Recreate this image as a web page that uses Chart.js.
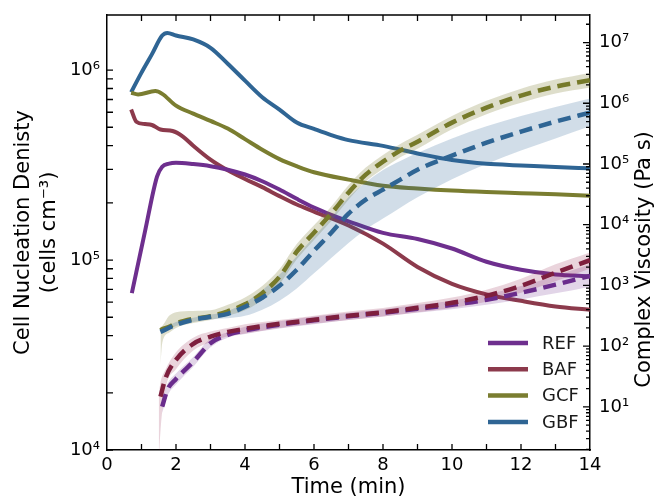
<!DOCTYPE html>
<html>
<head>
<meta charset="utf-8">
<script src="https://cdn.jsdelivr.net/npm/chart.js@4.4.1/dist/chart.umd.min.js"></script>
<style>
body{margin:0;background:#fff;}
canvas{display:block;}
</style>
</head>
<body>
<canvas id="chart" width="660" height="497"></canvas>
<script>
// cell nucleation density (left axis), time in min
let refTime=[0.72,1.1,1.45,1.6,1.8,2.0,2.5,3.0,3.5,4.0,4.5,5.0,5.5,6.0,6.5,7.0,8.0,9.0,10,11,12,13,14];
let refDensity=[6.7e4,1.41e5,2.75e5,3.1e5,3.22e5,3.25e5,3.2e5,3.12e5,2.99e5,2.82e5,2.6e5,2.35e5,2.1e5,1.89e5,1.73e5,1.6e5,1.39e5,1.29e5,1.15e5,9.8e4,8.9e4,8.4e4,8.2e4];

let bafTime=[0.7,0.85,1.1,1.3,1.55,1.9,2.2,2.5,3.0,3.5,4.0,4.5,5.0,5.5,6.0,7.0,8.0,9.0,10,11,12,13,14];
let bafDensity=[6.2e5,5.35e5,5.2e5,5.14e5,4.87e5,4.78e5,4.47e5,4.0e5,3.38e5,2.97e5,2.67e5,2.42e5,2.17e5,1.96e5,1.8e5,1.52e5,1.22e5,9.2e4,7.5e4,6.6e4,6.1e4,5.7e4,5.47e4];

let gcfTime=[0.7,0.9,1.4,1.6,2.0,2.5,3.0,3.5,4.0,4.5,5.0,5.5,6.0,7.0,8.0,9.0,10,11,12,13,14];
let gcfDensity=[7.6e5,7.45e5,7.75e5,7.5e5,6.5e5,5.9e5,5.4e5,4.92e5,4.33e5,3.81e5,3.4e5,3.12e5,2.9e5,2.65e5,2.46e5,2.38e5,2.32e5,2.28e5,2.25e5,2.22e5,2.18e5];

let gbfTime=[0.7,1.0,1.3,1.6,1.75,2.0,2.5,3.0,3.5,4.0,4.5,5.0,5.5,6.0,6.5,7.0,8.0,9.0,10,11,12,13,14];
let gbfDensity=[7.65e5,9.7e5,1.21e6,1.52e6,1.57e6,1.52e6,1.45e6,1.31e6,1.08e6,8.8e5,7.2e5,6.2e5,5.3e5,4.9e5,4.55e5,4.28e5,3.99e5,3.64e5,3.36e5,3.21e5,3.15e5,3.09e5,3.04e5];

// complex viscosity (right axis), mean with upper / lower band
let refVisTime=[1.6,1.75,2.0,2.5,3.0,3.5,4.0,5.0,6.0,7.0,8.0,9.0,10,11,12,13,14];
let refVisc=[10.1,19.1,28.9,55.2,112,154,182,225,267,310,354,412,480,581,757,1030,1440];
let refViscHigh=[12.6,24,35.5,66.1,132,170,209,257,309,355,407,479,562,708,977,1450,2240];
let refViscLow=[7.9,15.1,23.4,45.7,95.5,138,158,195,229,269,309,355,407,479,589,741,955];

let bafVisTime=[1.5,1.55,1.7,2.0,2.5,3.0,3.5,4.0,5.0,6.0,7.0,8.0,9.0,10,11,12,13,14];
let bafVisc=[null,14.8,30.1,59.6,109,144,172,193,233,272,316,361,429,518,676,986,1620,2600];
let bafViscHigh=[16,25.1,41.7,79.4,138,174,200,229,269,316,372,427,513,631,851,1290,2240,3500];
let bafViscLow=[1.26,4.0,20,41.7,85.1,117,145,162,200,234,269,309,363,427,537,759,1170,1900];

let gcfVisTime=[1.55,1.6,1.8,2.0,2.5,3.0,3.5,4.0,4.5,5.0,5.5,6.0,6.5,7.0,7.5,8.0,8.5,9.0,10,11,12,13,14];
let gcfVisc=[182,190,208,238,282,310,375,489,743,1390,3590,7380,15200,33700,66700,109000,166000,233000,480000,847000,1340000,1880000,2390000];
let gcfViscHigh=[209,214,316,363,380,389,479,631,977,1860,4790,9770,20000,44700,87100,141000,214000,302000,617000,1100000,1740000,2450000,3160000];
let gcfViscLow=[50,112,166,200,240,269,316,389,575,1050,2690,5620,11500,25700,51300,83200,129000,178000,372000,661000,1020000,1450000,1820000];

let gbfVisTime=[1.55,2.0,2.5,3.0,3.5,4.0,4.5,5.0,5.5,6.0,6.5,7.0,7.5,8.0,8.5,9.0,10,11,12,13,14];
let gbfVisc=[172,225,272,304,341,445,627,986,1810,3720,7380,15200,25800,37800,55200,80500,137000,224000,341000,499000,701000];
let gbfViscHigh=[182,251,295,331,380,525,832,1510,3020,6310,13200,28200,50100,79400,112000,151000,263000,417000,617000,871000,1200000];
let gbfViscLow=[158,214,251,275,288,316,398,562,891,1580,2820,5010,8320,12600,19000,28200,56200,100000,166000,263000,417000];

let legendNames=["REF","BAF","GCF","GBF"];
let legendColors=["#6e2f8e","#8c3a4c","#7a7d30","#2f6594"];

function pts(xs,ys){
return xs.map((x,i)=>({x:x,y:ys[i]}));
}

const SUP="⁰¹²³⁴⁵⁶⁷⁸⁹";
function powLabel(v){
let e=Math.log10(v);
if(Math.abs(e-Math.round(e))>1e-6) return "";
return "10"+String(Math.round(e)).split("").map(d=>SUP[d]).join("");
}

function solid(name,xs,ys,color){
return {label:name,data:pts(xs,ys),yAxisID:"y",borderColor:color,borderWidth:4,order:3};
}
function dashed(xs,ys,color){
return {data:pts(xs,ys),yAxisID:"y2",borderColor:color,borderWidth:4.5,borderDash:[13,7],order:1};
}
function band(xs,hi,lo,color){
return [
{data:pts(xs,hi),yAxisID:"y2",fill:"+1",backgroundColor:color,borderColor:"rgba(0,0,0,0)",borderWidth:0,order:2},
{data:pts(xs,lo),yAxisID:"y2",fill:false,borderColor:"rgba(0,0,0,0)",borderWidth:0,order:2}
];
}

let datasets=[
solid("REF",refTime,refDensity,legendColors[0]),
solid("BAF",bafTime,bafDensity,legendColors[1]),
solid("GCF",gcfTime,gcfDensity,legendColors[2]),
solid("GBF",gbfTime,gbfDensity,legendColors[3]),
...band(gbfVisTime,gbfViscHigh,gbfViscLow,"rgba(45,100,150,0.22)"),
...band(gcfVisTime,gcfViscHigh,gcfViscLow,"rgba(122,125,46,0.25)"),
...band(bafVisTime,bafViscHigh,bafViscLow,"rgba(150,40,80,0.2)"),
...band(refVisTime,refViscHigh,refViscLow,"rgba(110,45,140,0.2)"),
dashed(gbfVisTime,gbfVisc,"#2f6594"),
dashed(gcfVisTime,gcfVisc,"#767a2a"),
dashed(bafVisTime,bafVisc,"#7e1f3e"),
dashed(refVisTime,refVisc,"#6a2c8c")
];

// inward ticks, top spine, right axis title and the legend box
const frame={
id:"frame",
afterDraw(chart){
let ctx=chart.ctx, a=chart.chartArea, x=chart.scales.x, y=chart.scales.y, y2=chart.scales.y2;
ctx.save();
ctx.strokeStyle="#000";
ctx.lineWidth=1.3;
ctx.beginPath();
ctx.moveTo(a.left,a.top);ctx.lineTo(a.right,a.top);
for(let t=x.min+1;t<x.max;t++){
let px=x.getPixelForValue(t);
ctx.moveTo(px,a.bottom);ctx.lineTo(px,a.bottom-6);
ctx.moveTo(px,a.top);ctx.lineTo(px,a.top+6);
}
for(let e=4;e<=6;e++){
for(let m=1;m<10;m++){
let v=m*Math.pow(10,e);
if(v<y.min||v>y.max) continue;
let py=y.getPixelForValue(v);
ctx.moveTo(a.left,py);ctx.lineTo(a.left+6,py);
}
}
for(let e=0;e<=7;e++){
for(let m=1;m<10;m++){
let v=m*Math.pow(10,e);
if(v<y2.min||v>y2.max) continue;
let py=y2.getPixelForValue(v);
let len=m===1?7:4;
ctx.moveTo(a.right,py);ctx.lineTo(a.right-len,py);
}
}
ctx.stroke();

// right axis title reads bottom to top
ctx.save();
ctx.translate(a.right+55,(a.top+a.bottom)/2+27);
ctx.rotate(-Math.PI/2);
ctx.font="21px 'DejaVu Sans'";
ctx.fillStyle="#000";
ctx.textAlign="center";
ctx.textBaseline="middle";
ctx.fillText("Complex Viscosity (Pa s)",0,0);
ctx.restore();

ctx.font="18px 'DejaVu Sans'";
ctx.textBaseline="middle";
ctx.textAlign="left";
legendNames.forEach((name,i)=>{
let ly=a.bottom-107+i*26.3;
ctx.strokeStyle=legendColors[i];
ctx.lineWidth=4.5;
ctx.beginPath();
ctx.moveTo(a.right-102,ly);ctx.lineTo(a.right-62,ly);
ctx.stroke();
ctx.fillStyle="#1a1a1a";
ctx.fillText(name,a.right-48,ly+1);
});
ctx.restore();
}
};

function fixSize(w,h){
return function(s){
if(w!==null) s.width=w;
if(h!==null) s.height=h;
s.paddingTop=0;s.paddingBottom=0;s.paddingLeft=0;s.paddingRight=0;
};
}

Chart.defaults.font.family="'DejaVu Sans'";
Chart.defaults.color="#000";

new Chart(document.getElementById("chart"),{
type:"line",
data:{datasets:datasets},
plugins:[frame],
options:{
responsive:false,
devicePixelRatio:1,
animation:false,
layout:{padding:{top:15,left:0,right:0,bottom:0}},
elements:{
point:{radius:0},
line:{cubicInterpolationMode:"monotone",fill:false}
},
plugins:{legend:{display:false},tooltip:{enabled:false}},
scales:{
x:{
type:"linear",min:0,max:14,
ticks:{stepSize:2,font:{size:18},padding:5,maxRotation:0,autoSkip:false},
grid:{display:false,drawTicks:false,tickLength:0},
border:{display:true,color:"#000",width:1.5},
title:{display:true,text:"Time (min)",font:{size:21,lineHeight:1.0},padding:{top:0,bottom:-1}},
afterFit:fixSize(null,47)
},
y:{
type:"logarithmic",position:"left",min:1e4,max:1.95e6,
ticks:{callback:powLabel,font:{size:18},padding:7,autoSkip:false},
grid:{display:false,drawTicks:false,tickLength:0},
border:{display:true,color:"#000",width:1.5},
title:{display:true,text:["Cell Nucleation Denisty","(cells cm⁻³)"],font:{size:21,lineHeight:1.25},padding:{top:10,bottom:0}},
afterFit:fixSize(107,null)
},
y2:{
type:"logarithmic",position:"right",min:1.95,max:2.84e7,
ticks:{callback:powLabel,font:{size:18},padding:9,autoSkip:false},
grid:{display:false,drawTicks:false,tickLength:0,drawOnChartArea:false},
border:{display:true,color:"#000",width:1.5},
title:{display:false},
afterFit:fixSize(70,null)
}
}
}
});
</script>
</body>
</html>
